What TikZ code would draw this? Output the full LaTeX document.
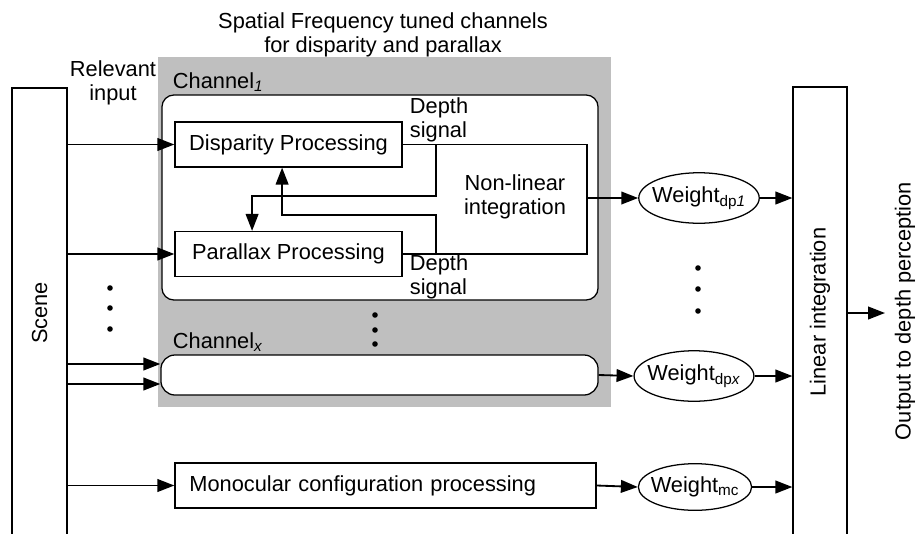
\documentclass[tikz,border=0pt]{standalone}
\usepackage{fontspec}
\setmainfont{Liberation Sans}
\usetikzlibrary{arrows.meta,shapes.geometric}

\begin{document}
\begin{tikzpicture}[x=0.025cm,y=-0.025cm,
    every node/.style={font=\fontsize{15.5}{17}\selectfont},
    box/.style={draw,line width=0.9pt,inner sep=0pt},
    wgt/.style={draw,ellipse,line width=0.9pt,inner xsep=-3pt,inner ysep=4.5pt},
    arr/.style={line width=1.3pt,-{Triangle[length=12pt,width=9pt]}},
    wire/.style={line width=1.3pt},
    dot/.style={circle,fill,inner sep=1.4pt}]
    \clip (0,0) rectangle (919,533);
    % grey band holding the channels
    \fill[gray!50] (158,57) rectangle (611,407);
    \node (title) at (383,35) [align=center] {Spatial Frequency tuned channels\\for disparity and parallax};

    % outer columns
    \node (scene) at (39.5,316.5) [box,minimum width=1.375cm,minimum height=11.425cm] {};
    \node at (39.5,313) [rotate=90] {Scene};
    \node (lin) at (820,316) [box,minimum width=1.35cm,minimum height=11.45cm] {};
    \node at (820,312) [rotate=90] {Linear integration};
    \node (rel) at (113,83) [align=center] {Relevant\\input};

    % channel 1
    \node (ch1) at (380,197.5) [box,fill=white,rounded corners=0.3cm,minimum width=10.9cm,minimum height=5.125cm] {};
    \node (ch1lbl) at (168,82) [anchor=west] {Channel\textsubscript{\textit{1}}};
    \node (disp) at (288.5,144.5) [box,minimum width=5.675cm,minimum height=1.125cm] {Disparity Processing};
    \node (para) at (288.5,254) [box,minimum width=5.675cm,minimum height=1.125cm] {Parallax Processing};
    \node (nltxt) at (515,197) [align=center] {Non-linear\\integration};
    \node (ds1) at (405,120) [anchor=west,align=left] {Depth\\signal};
    \node (ds2) at (405,277) [anchor=west,align=left] {Depth\\signal};
    \coordinate (nlr) at (587,198);
    \coordinate (jd) at (436,144.5);
    \coordinate (jp) at (436,254);
    \draw[wire] (disp.east) -| (nlr) |- (para.east);
    \draw[arr] (jd) -- (436,196) -| ([xshift=-0.91cm]para.north);
    \draw[arr] (jp) -- (436,215) -| ([xshift=-0.16cm]disp.south);

    % channel x
    \node (chx) at (379.5,375) [box,fill=white,rounded corners=0.35cm,minimum width=10.925cm,minimum height=1cm] {};
    \node (chxlbl) at (168,342) [anchor=west] {Channel\textsubscript{\textit{x}}};
    \foreach \y in {315,330,344} \node at (375,\y) [dot] {};

    % monocular path
    \node (mono) at (385.5,485.5) [box,minimum width=10.525cm,minimum height=1.125cm,text width=9.8cm,align=left] {Monocular configuration processing};

    % weights
    \node (w1) at (699,198) [wgt] {Weight\textsubscript{dp\textit{1}}};
    \node (wx) at (694,376) [wgt] {Weight\textsubscript{dp\textit{x}}};
    \node (wmc) at (695,487) [wgt] {Weight\textsubscript{mc}};
    \foreach \y in {268,289,311} \node at (698,\y) [dot] {};
    \foreach \y in {288,308,329} \node at (110,\y) [dot] {};

    % inputs from the scene
    \draw[arr] (scene.east |- disp.west) -- (disp.west);
    \draw[arr] (scene.east |- para.west) -- (para.west);
    \draw[arr] (scene.east |- {(0,364)}) -- (chx.west |- {(0,364)});
    \draw[arr] (scene.east |- {(0,384)}) -- (chx.west |- {(0,384)});
    \draw[arr] (scene.east |- mono.west) -- (mono.west);

    % channel outputs through the weights
    \draw[arr] (nlr) -- (w1.west);
    \draw[arr] (chx.east) -- (wx.west);
    \draw[arr] (mono.east) -- (wmc.west);
    \draw[arr] (w1.east) -- (lin.west |- w1.east);
    \draw[arr] (wx.east) -- (lin.west |- wx.east);
    \draw[arr] (wmc.east) -- (lin.west |- wmc.east);

    \coordinate (out) at (885,313);
    \draw[arr] (lin.east |- out) -- (out);
    \node (outlbl) at (905,311) [rotate=90] {Output to depth perception};
\end{tikzpicture}
\end{document}
